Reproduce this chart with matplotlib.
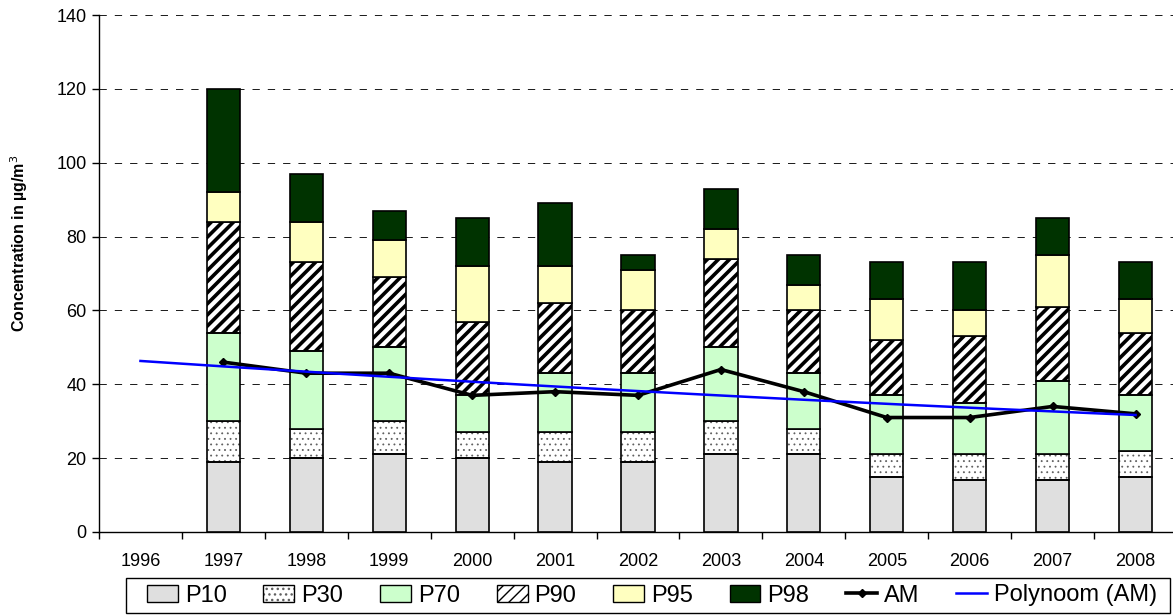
import numpy as np
import matplotlib
matplotlib.use("Agg")
import matplotlib.pyplot as plt
from matplotlib.lines import Line2D
from matplotlib.patches import Patch, Rectangle

plt.rcParams['font.family'] = ['Liberation Sans', 'DejaVu Sans']

years = ['1996', '1997', '1998', '1999', '2000', '2001', '2002',
         '2003', '2004', '2005', '2006', '2007', '2008']

# Percentile levels per year (cumulative concentration, µg/m³); 1996 has no data
p10 = [np.nan, 19, 20, 21, 20, 19, 19, 21, 21, 15, 14, 14, 15]
p30 = [np.nan, 30, 28, 30, 27, 27, 27, 30, 28, 21, 21, 21, 22]
p70 = [np.nan, 54, 49, 50, 37, 43, 43, 50, 43, 37, 35, 41, 37]
p90 = [np.nan, 84, 73, 69, 57, 62, 60, 74, 60, 52, 53, 61, 54]
p95 = [np.nan, 92, 84, 79, 72, 72, 71, 82, 67, 63, 60, 75, 63]
p98 = [np.nan, 120, 97, 87, 85, 89, 75, 93, 75, 73, 73, 85, 73]
am = [np.nan, 46, 43, 43, 37, 38, 37, 44, 38, 31, 31, 34, 32]

series_names = ['P10', 'P30', 'P70', 'P90', 'P95', 'P98']
levels = [p10, p30, p70, p90, p95, p98]
fills = ['#DFDFDF', 'white', '#CCFFCC', 'white', '#FFFFC0', '#003300']
hatches = [None, '...', None, '///', None, None]
hatch_colors = [None, '#606060', None, 'black', None, None]
hatch_lws = [1.0, 0.6, 1.0, 2.6, 1.0, 1.0]

W, H = 1173, 616
fig = plt.figure(figsize=(W / 100, H / 100), dpi=100)
ax = fig.add_axes([99 / W, (H - 532) / H, (1177 - 99) / W, (532 - 15) / H])

x = np.arange(len(years))
bar_w = 0.4
prev = np.zeros(len(years))
for name, lev, fc, ht, hc, hlw in zip(series_names, levels, fills, hatches,
                                      hatch_colors, hatch_lws):
    lev = np.array(lev, dtype=float)
    heights = lev - prev
    with plt.rc_context({'hatch.linewidth': hlw}):
        if ht is not None:
            # hatch layer in its own colour, outline drawn on top
            ax.bar(x, heights, bottom=prev, width=bar_w, facecolor=fc,
                   edgecolor=hc, linewidth=0, hatch=ht, zorder=3)
            ax.bar(x, heights, bottom=prev, width=bar_w, fill=False,
                   edgecolor='black', linewidth=1.2, zorder=3.5)
        else:
            ax.bar(x, heights, bottom=prev, width=bar_w, color=fc,
                   edgecolor='black', linewidth=1.2, zorder=3.5)
    prev = lev

# Arithmetic mean line
am_arr = np.array(am, dtype=float)
ax.plot(x, am_arr, color='black', linewidth=2.6, marker='D', markersize=3.8,
        zorder=5)

# Second-order polynomial trendline through the annual means
valid = ~np.isnan(am_arr)
coef = np.polyfit(x[valid], am_arr[valid], 2)
xt = np.linspace(x[0], x[-1], 200)
ax.plot(xt, np.polyval(coef, xt), color='#0000FF', linewidth=1.8, zorder=6)

ax.set_xlim(-0.5, len(years) - 0.5)
ax.set_ylim(0, 140)
ax.set_yticks(np.arange(0, 141, 20))
ax.yaxis.grid(True, color='#202020', linestyle=(0, (7.3, 8)), linewidth=0.72,
              zorder=0)
ax.set_axisbelow(True)

ax.set_xticks(np.arange(-0.5, len(years), 1.0))
ax.set_xticklabels([])
ax.set_xticks(x, minor=True)
ax.set_xticklabels(years, minor=True)
ax.tick_params(axis='x', which='major', direction='out', length=5, width=1)
ax.tick_params(axis='x', which='minor', length=0, pad=15, labelsize=13)
ax.tick_params(axis='y', direction='out', length=5, width=1, labelsize=13,
               pad=4)

for side in ('top', 'right'):
    ax.spines[side].set_visible(False)
for side in ('left', 'bottom'):
    ax.spines[side].set_linewidth(1.0)

fig.text(19 / W, 1 - 243 / H, 'Concentration in µg/m$^3$', rotation=90,
         ha='center', va='center', fontsize=11.5, fontweight='bold')

handles = []
for name, fc, ht, hc, hlw in zip(series_names, fills, hatches, hatch_colors,
                                 hatch_lws):
    if ht is not None:
        with plt.rc_context({'hatch.linewidth': hlw}):
            inner = Patch(facecolor=fc, edgecolor=hc, linewidth=0, hatch=ht)
        outline = Patch(fill=False, edgecolor='black', linewidth=1.0)
        handles.append((inner, outline))
    else:
        handles.append(Patch(facecolor=fc, edgecolor='black', linewidth=1.0))
handles.append(Line2D([], [], color='black', linewidth=2.6, marker='D',
                      markersize=3.8))
handles.append(Line2D([], [], color='#0000FF', linewidth=1.8))
labels = series_names + ['AM', 'Polynoom (AM)']

leg = fig.legend(handles, labels, ncol=8, loc='center left',
                 bbox_to_anchor=(147 / W, 1 - 595.5 / H),
                 fontsize=17, frameon=False, borderpad=0,
                 handlelength=1.31, handleheight=0.72, handletextpad=0.3,
                 borderaxespad=0, columnspacing=1.55)

fig.add_artist(Rectangle((126 / W, (H - 613) / H), (1170 - 126) / W,
                         (613 - 578) / H, transform=fig.transFigure,
                         facecolor='none', edgecolor='black', linewidth=1.0))

fig.savefig('out.png', dpi=100)
